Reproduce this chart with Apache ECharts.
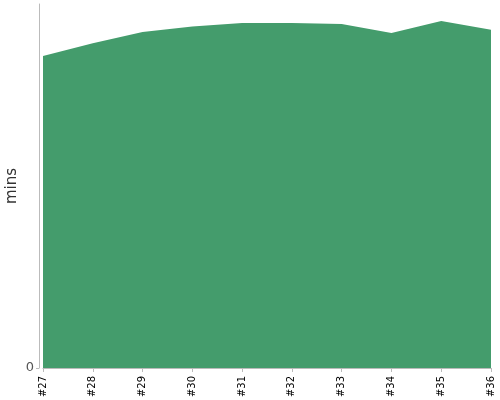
<!DOCTYPE html>
<html><head><meta charset="utf-8">
<script src="https://cdn.jsdelivr.net/npm/echarts@6/dist/echarts.min.js"></script>
<style>html,body{margin:0;padding:0;background:#fff}#c{width:500px;height:400px}</style>
</head><body><div id="c"></div>
<script>
const categories = ['#27','#28','#29','#30','#31','#32','#33','#34','#35','#36'];
const minsValues = [85.7, 89.2, 92.3, 93.8, 94.8, 94.8, 94.5, 92.0, 95.3, 92.9];
const yTickValues = [0];

const chart = echarts.init(document.getElementById('c'), null, {renderer:'canvas'});
chart.setOption({
  animation:false,
  grid:{left:43,right:9,top:4,bottom:32,containLabel:false,outerBoundsMode:'none'},
  xAxis:{
    type:'category', data:categories, boundaryGap:false, offset:4,
    axisLine:{lineStyle:{color:'#bbb'}},
    axisTick:{show:true,length:4,alignWithLabel:true,lineStyle:{color:'#bbb'}},
    axisLabel:{rotate:90,fontSize:10,color:'#000',fontFamily:'DejaVu Sans',margin:4,interval:0},
    splitLine:{show:false}
  },
  yAxis:{
    type:'value', min:0, max:100, offset:4,
    name:'mins', nameLocation:'middle', nameGap:19, nameMoveOverlap:false,
    nameTextStyle:{fontSize:15,color:'#333',fontFamily:'DejaVu Sans'},
    axisLine:{show:true,lineStyle:{color:'#bbb'}},
    axisTick:{show:true,length:3,customValues:yTickValues,lineStyle:{color:'#bbb'}},
    axisLabel:{customValues:yTickValues,fontSize:13,color:'#555',fontFamily:'DejaVu Sans',margin:5},
    splitLine:{show:false}
  },
  series:[{
    type:'line', data:minsValues, symbol:'none',
    lineStyle:{width:0},
    areaStyle:{color:'#449c6c',opacity:1}
  }]
});
</script></body></html>
